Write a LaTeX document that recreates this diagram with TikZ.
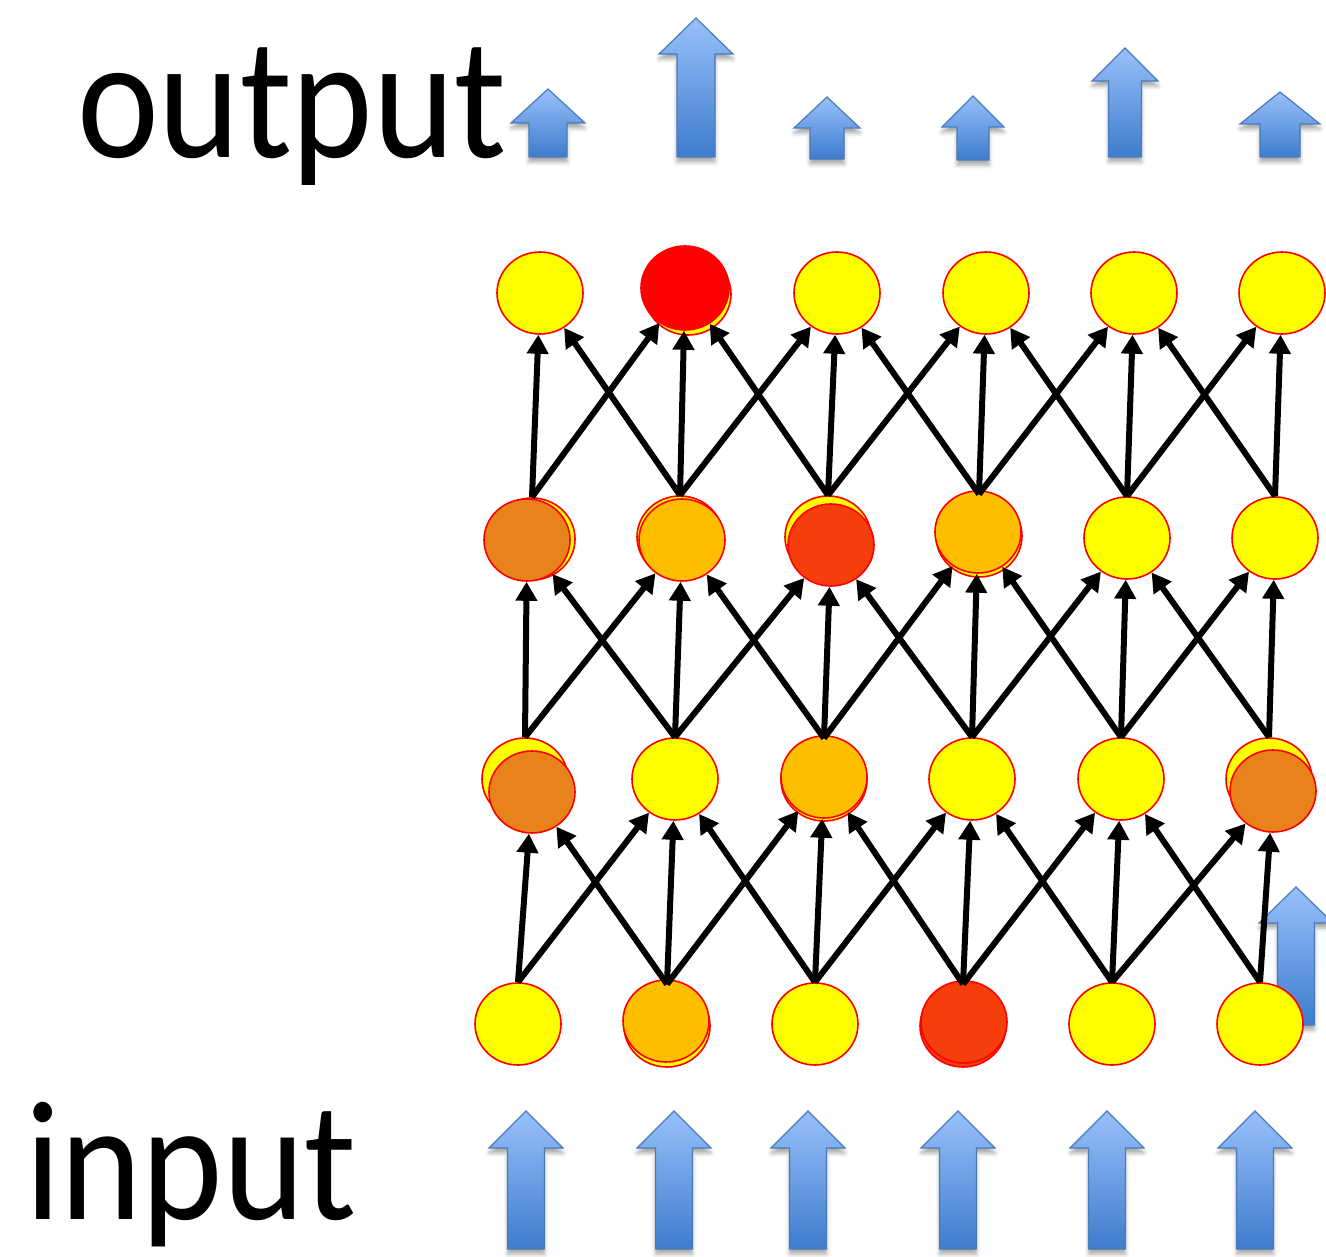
\documentclass[tikz,border=0pt]{standalone}
\usepackage{fontspec}
\setmainfont{Carlito}
\usepackage{graphicx}
\usetikzlibrary{arrows.meta,shapes.geometric,shadows.blur}
\definecolor{ylw}{RGB}{255,255,0}
\definecolor{dorg}{RGB}{232,130,26}
\definecolor{amb}{RGB}{255,190,0}
\definecolor{rorg}{RGB}{246,62,12}
\definecolor{arrtop}{RGB}{152,192,250}
\definecolor{arrbot}{RGB}{62,124,205}
\definecolor{arrline}{RGB}{72,124,188}
\tikzset{
  neuron/.style={ellipse, draw=red, line width=1.6pt, minimum width=86pt, minimum height=82pt, inner sep=0pt, fill=ylw},
  conn/.style={line width=6pt, black, -{Triangle[length=19pt,width=21pt]}},
  bigtext/.style={anchor=base west, inner sep=0pt, outer sep=0pt},
  blockarrow/.style={draw=arrline, line width=1.2pt, top color=arrtop, bottom color=arrbot,
     blur shadow={shadow xshift=0pt, shadow yshift=-5pt, shadow blur radius=4pt, shadow opacity=35}}
}
\newcommand\blockup[6]{%
  \draw[blockarrow] (#1,#2) -- ({#1+#4},#3) -- ({#1+#5},#3) -- ({#1+#5},#6) -- ({#1-#5},#6) -- ({#1-#5},#3) -- ({#1-#4},#3) -- cycle;}
\begin{document}
\begin{tikzpicture}[x=1pt,y=-1pt]
\useasboundingbox (0,0) rectangle (1326,1257);
% texts
\node[bigtext] (outtxt) at (77,158) {\scalebox{1}[1.12]{\fontsize{155}{160}\selectfont output}};
\node[bigtext] (intxt) at (25,1219) {\scalebox{1}[1.1]{\fontsize{155}{160}\selectfont input}};
% output arrows
\blockup{548}{89}{123}{37}{19}{157}
\blockup{696}{18}{54}{37}{19}{157}
\blockup{827}{97}{128}{33}{17}{159}
\blockup{973}{96}{127}{31}{16}{160}
\blockup{1125}{48}{81}{33}{16.5}{157}
\blockup{1280}{92}{124}{40}{20}{157}
% input arrows
\blockup{526}{1111}{1148}{37}{18.5}{1249}
\blockup{674}{1111}{1148}{37}{18.5}{1249}
\blockup{808}{1111}{1148}{37}{18.5}{1249}
\blockup{958}{1111}{1148}{37}{18.5}{1249}
\blockup{1107}{1111}{1148}{37}{18.5}{1249}
\blockup{1255}{1111}{1148}{37}{18.5}{1249}
% extra arrow behind the network
\blockup{1296}{887}{923}{37}{18.5}{1025}
% row 4
\node[neuron, alias=t41] (b41) at (540,293) {};
\node[neuron] (b42) at (688,294) {};
\node[neuron, fill=red, minimum width=88pt, minimum height=84pt] (t42) at (685,288) {};
\node[neuron, alias=t43] (b43) at (837,293) {};
\node[neuron, alias=t44] (b44) at (986,293) {};
\node[neuron, alias=t45] (b45) at (1134,293) {};
\node[neuron, alias=t46] (b46) at (1282,293) {};
% row 3
\node[neuron] (b31) at (532,539) {};
\node[neuron, fill=dorg] (t31) at (527,540) {};
\node[neuron] (b32) at (680,537) {};
\node[neuron, fill=amb] (t32) at (682,540) {};
\node[neuron] (b33) at (828,537) {};
\node[neuron, fill=rorg] (t33) at (831,545) {};
\node[neuron] (b34) at (979,536) {};
\node[neuron, fill=amb] (t34) at (978,532) {};
\node[neuron, alias=t35] (b35) at (1127,538) {};
\node[neuron, alias=t36] (b36) at (1275,538) {};
% row 2
\node[neuron] (b21) at (525,779) {};
\node[neuron, fill=dorg] (t21) at (532,792) {};
\node[neuron, alias=t22] (b22) at (675,779) {};
\node[neuron] (b23) at (824,780) {};
\node[neuron, fill=amb] (t23) at (824,777) {};
\node[neuron, alias=t24] (b24) at (972,779) {};
\node[neuron, alias=t25] (b25) at (1121,779) {};
\node[neuron] (b26) at (1269,779) {};
\node[neuron, fill=dorg] (t26) at (1273,791) {};
% row 1
\node[neuron, alias=t11] (b11) at (518,1024) {};
\node[neuron] (b12) at (667,1026) {};
\node[neuron, fill=amb] (t12) at (666,1021) {};
\node[neuron, alias=t13] (b13) at (815,1024) {};
\node[neuron, fill=rorg] (b14) at (963,1026) {};
\node[neuron, fill=rorg] (t14) at (964,1022) {};
\node[neuron, alias=t15] (b15) at (1112,1024) {};
\node[neuron, alias=t16] (b16) at (1260,1024) {};
% connectors
\foreach \r in {1,2,3}{
  \foreach \c in {1,...,6}{
    \pgfmathtruncatemacro\rn{\r+1}
    \pgfmathtruncatemacro\cl{\c-1}
    \pgfmathtruncatemacro\cr{\c+1}
    \draw[conn] (b\r\c.north) -- (t\rn\c);
    \ifnum\c>1 \draw[conn] (b\r\c.north) -- (t\rn\cl); \fi
    \ifnum\c<6 \draw[conn] (b\r\c.north) -- (t\rn\cr); \fi
  }
}
\end{tikzpicture}
\end{document}
